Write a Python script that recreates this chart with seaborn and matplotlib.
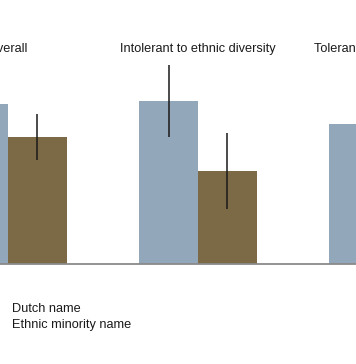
import numpy as np
import pandas as pd
import matplotlib
matplotlib.use("Agg")
import matplotlib.pyplot as plt
import seaborn as sns

# data (share of callbacks, rough estimates)
groups = ["Overall", "Intolerant to ethnic diversity", "Tolerant to ethnic diversity"]
names = ["Dutch name", "Ethnic minority name"]
dutch = [0.40, 0.4075, 0.35]
minority = [0.3175, 0.2325, 0.30]
dutch_err = [0.06, 0.09, 0.07]
minority_err = [0.0575, 0.094, 0.08]

df = pd.DataFrame({
    "group": groups * 2,
    "name": [names[0]] * 3 + [names[1]] * 3,
    "value": dutch + minority,
    "err": dutch_err + minority_err,
})

sns.set_style("white")
plt.rcParams["font.family"] = ["Liberation Sans", "DejaVu Sans"]

fig = plt.figure(figsize=(3.56, 3.64), dpi=100)
ax = fig.add_axes([0, 100 / 364, 1, 264 / 364])

palette = {names[0]: "#93a7ba", names[1]: "#7b6a45"}
sns.barplot(data=df, x="group", y="value", hue="name", order=groups,
            hue_order=names, palette=palette, width=0.62, errorbar=None,
            saturation=1, linewidth=0, ax=ax, legend=True)

# error bars at the bar centres
for bars, nm in zip(ax.containers, names):
    sub = df[df["name"] == nm].set_index("group").loc[groups]
    xs = [b.get_x() + b.get_width() / 2 for b in bars]
    ax.errorbar(xs, sub["value"], yerr=sub["err"], fmt="none",
                ecolor="#1a1a1a", elinewidth=1.1, capsize=0)

# group titles
for i, g in enumerate(groups):
    ax.text(i, 0.53, g, ha="center", va="baseline", fontsize=9.2, color="#1a1a1a")

ax.set_xlim(-8 / 190, 348 / 190)
ax.set_ylim(0, 0.66)
ax.set_xlabel("")
ax.set_ylabel("")
ax.set_xticks([])
ax.set_yticks([])
for s in ["top", "left", "right"]:
    ax.spines[s].set_visible(False)
ax.spines["bottom"].set_color("#8a8a8a")
ax.spines["bottom"].set_linewidth(1.3)

# legend swatches sit just past the left edge, as in the cropped original
handles, labels = ax.get_legend_handles_labels()
ax.legend(handles, labels, loc="upper left", frameon=False, fontsize=9.2,
          bbox_to_anchor=(-44 / 356, 73 / 364), bbox_transform=fig.transFigure,
          labelspacing=0.35, borderpad=0.4, handlelength=2.0, handletextpad=1.5,
          labelcolor="#1a1a1a")

fig.savefig("out.png", dpi=100)
